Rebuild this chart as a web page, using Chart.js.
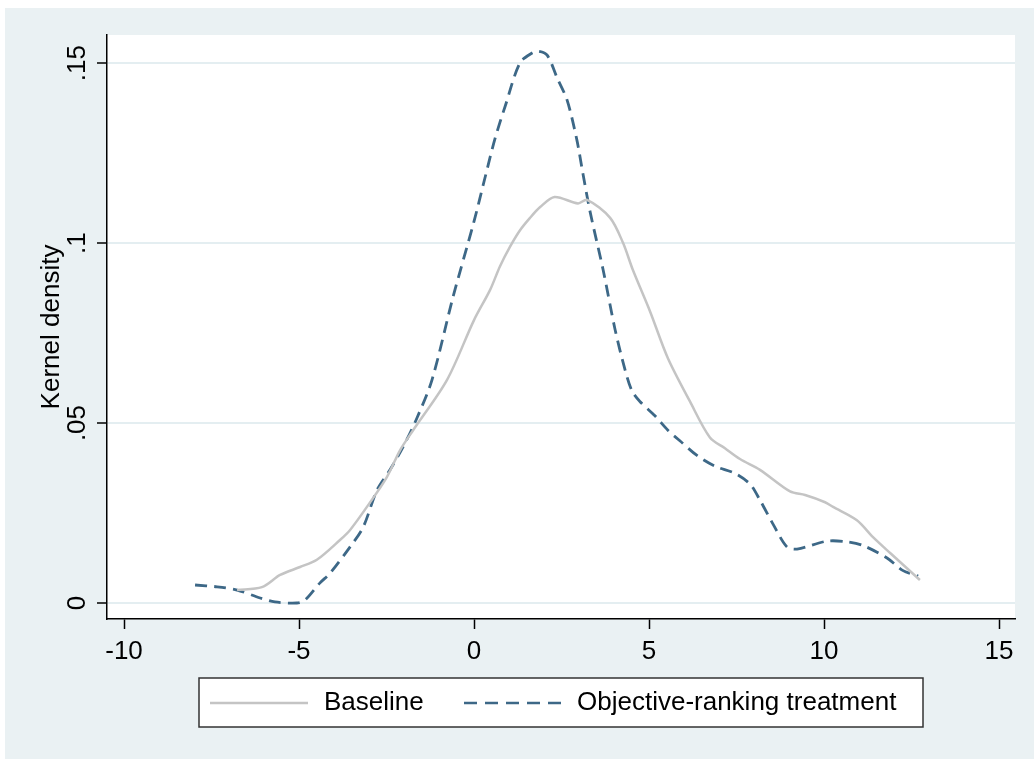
<!DOCTYPE html>
<html>
<head>
<meta charset="utf-8">
<script src="https://cdn.jsdelivr.net/npm/chart.js@4.4.1/dist/chart.umd.min.js"></script>
<style>
    html, body { margin: 0; padding: 0; background: #fff; }
    #wrap { width: 1034px; height: 759px; }
</style>
</head>
<body>
<div id="wrap"><canvas id="kdChart" width="1034" height="759"></canvas></div>
<script>
// Kernel density estimates
const baselineX = [-6.77, -6.06, -5.54, -4.97, -4.49, -3.83, -3.54, -3.06, -2.49, -2.11, -1.74, -0.77, 0, 0.46, 0.74, 1.03, 1.31, 1.6, 1.89, 2.3, 2.97, 3.23, 3.89, 4.26, 4.54, 5.03, 5.54, 6.17, 6.74, 7.17, 7.6, 8.17, 9.03, 9.46, 10.03, 10.26, 10.94, 11.4, 11.89, 12.74];
const baselineY = [0.0036, 0.0044, 0.0078, 0.010, 0.012, 0.0175, 0.0203, 0.0267, 0.035, 0.0425, 0.048, 0.062, 0.0786, 0.087, 0.0935, 0.099, 0.1035, 0.107, 0.110, 0.1128, 0.111, 0.112, 0.107, 0.1, 0.0925, 0.081, 0.068, 0.056, 0.046, 0.043, 0.040, 0.037, 0.031, 0.030, 0.028, 0.0267, 0.023, 0.0183, 0.0139, 0.0064];

const treatX = [-7.97, -7.34, -6.77, -6.11, -5.69, -5.06, -4.83, -4.4, -4.11, -3.54, -3.17, -2.77, -2.4, -2.03, -1.63, -1.2, -0.6, 0, 0.31, 0.6, 0.89, 1.31, 1.66, 1.83, 2.09, 2.37, 2.66, 2.94, 3.11, 3.31, 3.69, 4.03, 4.31, 4.51, 4.74, 5.17, 5.54, 5.89, 6.37, 6.89, 7.46, 7.89, 8.17, 8.54, 8.94, 9.23, 10.09, 10.66, 11.11, 11.8, 12.26, 12.69];
const treatY = [0.005, 0.0045, 0.0036, 0.0014, 0.0003, 0, 0.0008, 0.0056, 0.0083, 0.0156, 0.021, 0.0314, 0.037, 0.0433, 0.0514, 0.062, 0.085, 0.106, 0.118, 0.129, 0.138, 0.150, 0.1528, 0.1533, 0.1522, 0.146, 0.1397, 0.1286, 0.1194, 0.109, 0.0925, 0.076, 0.065, 0.059, 0.056, 0.052, 0.048, 0.045, 0.041, 0.038, 0.036, 0.033, 0.0286, 0.022, 0.0156, 0.015, 0.0172, 0.017, 0.016, 0.0125, 0.009, 0.0075];

const seriesLabels = ['Baseline', 'Objective-ranking treatment'];
const xTicks = [-10, -5, 0, 5, 10, 15];
const yTicks = [0, 0.05, 0.1, 0.15];
const yTickLabels = ['0', '.05', '.1', '.15'];
const yTitle = 'Kernel density';

const FONT = 'Arial, "Liberation Sans", sans-serif';
const BG = '#eaf1f3';
const GREY = '#c4c4c4';
const NAVY = '#3d6887';

const toPoints = (xs, ys) => xs.map((x, i) => ({ x: x, y: ys[i] }));

// fond gris-bleu + zone du graphique en blanc
const backgroundPlugin = {
    id: 'stataBg',
    beforeDraw(chart) {
        const ctx = chart.ctx;
        const a = chart.chartArea;
        ctx.save();
        ctx.fillStyle = '#fff';
        ctx.fillRect(0, 0, chart.width, chart.height);
        ctx.fillStyle = BG;
        ctx.fillRect(5, 8, chart.width - 5, chart.height - 8);
        ctx.fillStyle = '#fff';
        ctx.fillRect(a.left, a.top, a.right - a.left, a.bottom - a.top);
        ctx.restore();
    }
};

// étiquettes Y verticales, titre Y et légende encadrée
const overlayPlugin = {
    id: 'stataOverlay',
    afterDraw(chart) {
        const ctx = chart.ctx;
        const yScale = chart.scales.y;
        ctx.save();
        ctx.fillStyle = '#000';
        ctx.font = '26px ' + FONT;
        ctx.textAlign = 'center';
        ctx.textBaseline = 'middle';
        yTicks.forEach((v, i) => {
            ctx.save();
            ctx.translate(78, yScale.getPixelForValue(v));
            ctx.rotate(-Math.PI / 2);
            ctx.fillText(yTickLabels[i], 0, 0);
            ctx.restore();
        });

        const a = chart.chartArea;
        ctx.save();
        ctx.translate(52, (a.top + a.bottom) / 2);
        ctx.rotate(-Math.PI / 2);
        ctx.fillText(yTitle, 0, 0);
        ctx.restore();

        // légende
        ctx.fillStyle = '#fff';
        ctx.fillRect(199, 678, 724, 49);
        ctx.strokeStyle = '#333';
        ctx.lineWidth = 1.5;
        ctx.strokeRect(199, 678, 724, 49);

        const ly = 703;
        ctx.lineWidth = 2.5;
        ctx.strokeStyle = GREY;
        ctx.beginPath(); ctx.moveTo(210, ly); ctx.lineTo(308, ly); ctx.stroke();
        ctx.strokeStyle = NAVY;
        ctx.lineWidth = 2.5;
        ctx.setLineDash([13, 8]);
        ctx.beginPath(); ctx.moveTo(464, ly); ctx.lineTo(562, ly); ctx.stroke();
        ctx.setLineDash([]);

        ctx.fillStyle = '#000';
        ctx.textAlign = 'left';
        ctx.fillText(seriesLabels[0], 324, ly);
        ctx.fillText(seriesLabels[1], 577, ly);
        ctx.restore();
    }
};

new Chart(document.getElementById('kdChart'), {
    type: 'line',
    data: {
        datasets: [{
            label: seriesLabels[0],
            data: toPoints(baselineX, baselineY),
            borderColor: GREY,
            borderWidth: 2.5,
            pointRadius: 0,
            tension: 0.3,
            fill: false
        }, {
            label: seriesLabels[1],
            data: toPoints(treatX, treatY),
            borderColor: NAVY,
            borderWidth: 2.8,
            borderDash: [12, 7],
            pointRadius: 0,
            tension: 0.3,
            fill: false
        }]
    },
    options: {
        responsive: false,
        devicePixelRatio: 1,
        animation: false,
        layout: { padding: { left: 0, top: 35, right: 19, bottom: 90 } },
        plugins: {
            legend: { display: false },
            tooltip: { enabled: false }
        },
        scales: {
            x: {
                type: 'linear',
                min: -10.486,
                max: 15.457,
                afterBuildTicks: (scale) => { scale.ticks = xTicks.map(v => ({ value: v })); },
                afterFit: (scale) => { scale.height = 50; },
                border: { color: '#000', width: 1.5 },
                grid: { drawOnChartArea: false, drawTicks: true, tickLength: 10, tickColor: '#000', tickWidth: 1.5 },
                ticks: {
                    color: '#000',
                    font: { family: FONT, size: 26 },
                    padding: 7,
                    maxRotation: 0,
                    callback: (v) => String(v)
                }
            },
            y: {
                type: 'linear',
                min: -0.00444,
                max: 0.1578,
                afterBuildTicks: (scale) => { scale.ticks = yTicks.map(v => ({ value: v })); },
                afterFit: (scale) => { scale.width = 107; },
                border: { color: '#000', width: 1.5 },
                grid: { color: '#e4eef1', lineWidth: 2, drawTicks: true, tickLength: 10, tickColor: '#000', tickWidth: 1.5 },
                ticks: { display: false }
            }
        }
    },
    plugins: [backgroundPlugin, overlayPlugin]
});
</script>
</body>
</html>
